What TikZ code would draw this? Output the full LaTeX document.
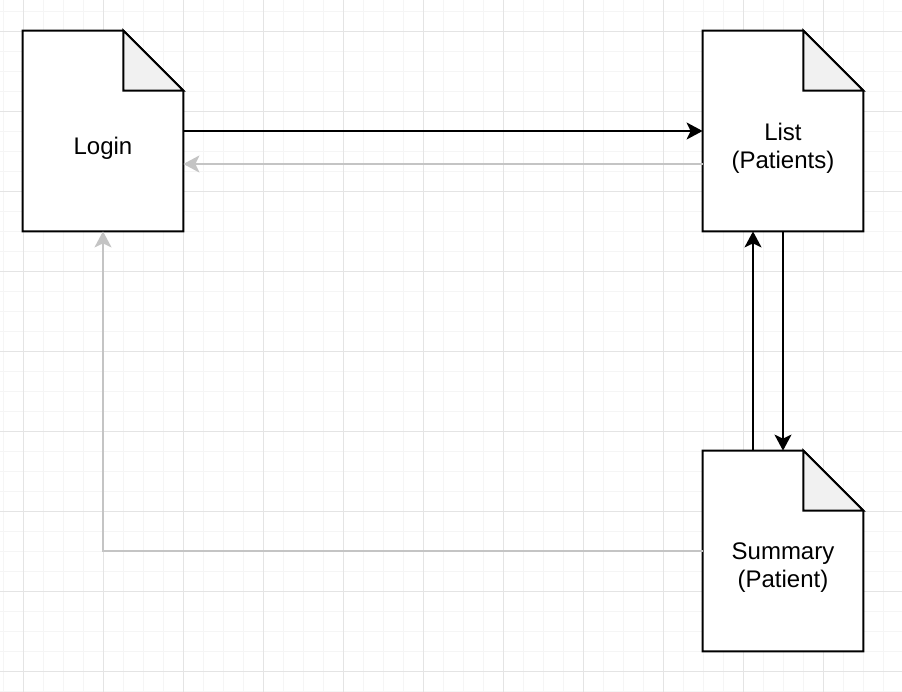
\documentclass[tikz,border=0pt]{standalone}
\usepackage{fontspec}
\setmainfont{Liberation Sans}
\usetikzlibrary{arrows.meta,positioning,calc}
\definecolor{gridminor}{RGB}{245,245,245}
\definecolor{gridmajor}{RGB}{228,228,228}
\definecolor{foldgray}{RGB}{241,241,241}
\definecolor{backgray}{RGB}{196,196,196}

\begin{document}
\begin{tikzpicture}[x=0.5pt,y=-0.5pt,
    doc/.style={minimum width=80pt,minimum height=100pt,inner sep=0pt},
    docline/.style={draw=black,line width=1pt},
    doctext/.style={align=center,font=\fontsize{12}{14}\selectfont,inner sep=0pt},
    fwd/.style={line width=1pt,-{Stealth[length=8pt,width=8.5pt,inset=2pt]}},
    back/.style={fwd,draw=backgray}]
    \useasboundingbox (0,0) rectangle (902,692);
    \fill[white] (0,0) rectangle (902,692);

    % Grid
    \foreach \x in {3,23,...,883} \draw[gridminor,line width=0.5pt] (\x,0) -- (\x,692);
    \foreach \y in {11,31,...,691} \draw[gridminor,line width=0.5pt] (0,\y) -- (902,\y);
    \foreach \x in {23,103,...,823} \draw[gridmajor,line width=0.5pt] (\x,0) -- (\x,692);
    \foreach \y in {31,111,...,671} \draw[gridmajor,line width=0.5pt] (0,\y) -- (902,\y);

    % Pages
    \node[doc] (login) at (103,131) {};
    \node[doc] (list) at (783,131) {};
    \node[doc] (summary) at (783,551) {};
    \foreach \n in {login,list,summary}{
        \draw[docline,fill=white] (\n.north west) -- ([xshift=-30pt]\n.north east) -- ([yshift=-30pt]\n.north east) -- (\n.south east) -- (\n.south west) -- cycle;
        \draw[docline,fill=foldgray] ([xshift=-30pt]\n.north east) -- ([yshift=-30pt]\n.north east) -- ([xshift=-30pt,yshift=-30pt]\n.north east) -- cycle;
    }
    \node[doctext] (logintext) at ([yshift=-8.5pt]login.center) {Login};
    \node[doctext] (listtext) at ([yshift=-8.5pt]list.center) {List\\(Patients)};
    \node[doctext] (summarytext) at ([yshift=-8.5pt]summary.center) {Summary\\(Patient)};

    % Arrows
    \draw[fwd] (login.east) -- (list.west);
    \draw[back] ([yshift=-16.5pt]list.west) -- ([yshift=-16.5pt]login.east);
    \draw[fwd] (list.south) -- (summary.north);
    \draw[fwd] ([xshift=-15pt]summary.north) -- ([xshift=-15pt]list.south);
    \draw[back] (summary.west) -| (login.south);
\end{tikzpicture}
\end{document}
